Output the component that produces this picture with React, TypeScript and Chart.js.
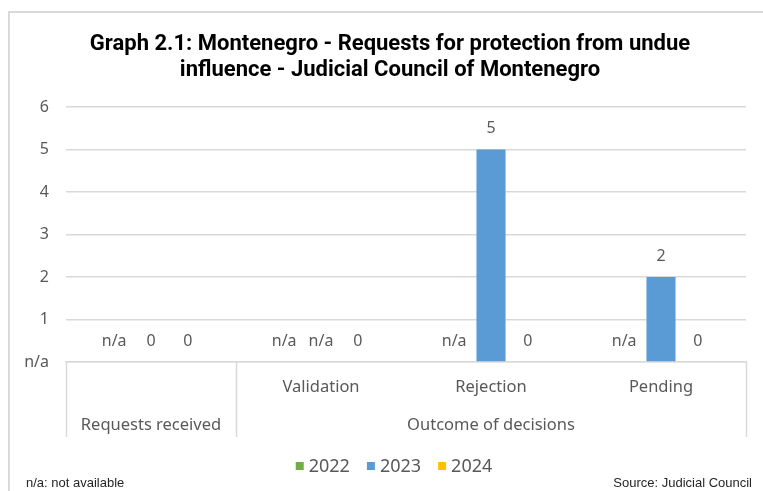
import React, { useEffect, useRef } from "react";
import { Chart, registerables } from "chart.js";

Chart.register(...registerables);

const titleLines = [
  "Graph 2.1: Montenegro - Requests for protection from undue",
  "influence - Judicial Council of Montenegro",
];
const categories = ["Requests received", "Validation", "Rejection", "Pending"];
const subLabels = ["", "Validation", "Rejection", "Pending"];
const groupLabels = ["Requests received", "Outcome of decisions"];
const groupSpans = [1, 3];
const seriesNames = ["2022", "2023", "2024"];
const values2022: (number | null)[] = [null, null, null, null];
const values2023: (number | null)[] = [0, null, 5, 2];
const values2024: (number | null)[] = [0, 0, 0, 0];
const yTicks = [0, 1, 2, 3, 4, 5, 6];
const zeroTickLabel = "n/a";
const footLeft = "n/a: not available";
const footRight = "Source: Judicial Council";

const colors = ["#70AD47", "#5B9BD5", "#FFC000"];
const textGray = "#595959";
const lineGray = "#D9D9D9";
const dataFont = "16px 'Noto Sans', sans-serif";
const catFont = "16.5px 'Noto Sans', sans-serif";

const decorPlugin = {
  id: "decor",
  beforeDraw(chart: any) {
    const ctx = chart.ctx;
    ctx.save();
    ctx.fillStyle = "#ffffff";
    ctx.fillRect(0, 0, chart.width, chart.height);
    ctx.strokeStyle = lineGray;
    ctx.lineWidth = 2;
    ctx.beginPath();
    ctx.moveTo(9, chart.height + 2);
    ctx.lineTo(9, 12);
    ctx.lineTo(chart.width + 2, 12);
    ctx.stroke();
    ctx.restore();
  },
  afterDraw(chart: any) {
    const ctx = chart.ctx;
    const xs = chart.scales.x;
    const ys = chart.scales.y;
    const area = chart.chartArea;
    ctx.save();
    // title
    ctx.fillStyle = "#000000";
    ctx.font = "bold 22px Roboto, sans-serif";
    ctx.textAlign = "center";
    ctx.textBaseline = "middle";
    titleLines.forEach((t, i) => ctx.fillText(t, 390, 44 + i * 26));

    // data labels
    ctx.font = dataFont;
    ctx.fillStyle = textGray;
    chart.data.datasets.forEach((ds: any, di: number) => {
      const meta = chart.getDatasetMeta(di);
      meta.data.forEach((el: any, i: number) => {
        const v = ds.data[i];
        const top = v == null ? ys.getPixelForValue(0) : ys.getPixelForValue(v);
        const txt = v == null ? "n/a" : String(v);
        ctx.fillText(txt, el.x, top - 21);
      });
    });

    // multi-level category axis
    const n = categories.length;
    const catW = (area.right - area.left) / n;
    const bottom = area.bottom;
    ctx.strokeStyle = lineGray;
    ctx.lineWidth = 1.5;
    let idx = 0;
    const bounds: number[] = [area.left];
    groupSpans.forEach((s) => {
      idx += s;
      bounds.push(area.left + idx * catW);
    });
    bounds.forEach((bx) => {
      ctx.beginPath();
      ctx.moveTo(Math.round(bx) + 0.5, bottom);
      ctx.lineTo(Math.round(bx) + 0.5, bottom + 75);
      ctx.stroke();
    });
    ctx.fillStyle = textGray;
    ctx.font = catFont;
    subLabels.forEach((l, i) => {
      if (l) ctx.fillText(l, xs.getPixelForValue(i), bottom + 25);
    });
    groupLabels.forEach((g, gi) => {
      const cx = (bounds[gi] + bounds[gi + 1]) / 2;
      ctx.fillText(g, cx, bottom + 63);
    });

    // legend
    ctx.font = "18px 'Noto Sans', sans-serif";
    ctx.textAlign = "left";
    const box = 8;
    const gap = 5;
    const spacing = 17;
    const widths = seriesNames.map((s) => box + gap + ctx.measureText(s).width);
    const total = widths.reduce((a, b) => a + b, 0) + spacing * (seriesNames.length - 1);
    let lx = 394 - total / 2;
    const ly = 466;
    seriesNames.forEach((s, i) => {
      ctx.fillStyle = colors[i];
      ctx.fillRect(lx, ly - box / 2, box, box);
      ctx.fillStyle = textGray;
      ctx.fillText(s, lx + box + gap, ly + 1);
      lx += widths[i] + spacing;
    });

    // footnotes
    ctx.fillStyle = "#262626";
    ctx.font = "13px 'Liberation Sans', Arial, sans-serif";
    ctx.textAlign = "left";
    ctx.fillText(footLeft, 26, 483);
    ctx.textAlign = "right";
    ctx.fillText(footRight, 752, 483);
    ctx.restore();
  },
};

export default function App() {
  const ref = useRef<HTMLCanvasElement>(null);
  useEffect(() => {
    if (!ref.current) return;
    const chart = new Chart(ref.current, {
      type: "bar",
      data: {
        labels: categories,
        datasets: [
          { label: seriesNames[0], data: values2022, backgroundColor: colors[0] },
          { label: seriesNames[1], data: values2023, backgroundColor: colors[1] },
          { label: seriesNames[2], data: values2024, backgroundColor: colors[2] },
        ],
      },
      options: {
        responsive: false,
        animation: false,
        maintainAspectRatio: false,
        layout: { padding: { left: 0, right: 17, top: 107, bottom: 0 } },
        plugins: {
          legend: { display: false },
          title: { display: false },
          tooltip: { enabled: false },
        },
        datasets: { bar: { categoryPercentage: 0.65, barPercentage: 0.79 } },
        scales: {
          x: {
            grid: { display: false },
            border: { display: true, color: lineGray, width: 1.5 },
            ticks: { display: false },
            afterFit: (s: any) => {
              s.height = 129;
            },
          },
          y: {
            min: 0,
            max: 6,
            afterBuildTicks: (s: any) => {
              s.ticks = yTicks.map((v) => ({ value: v }));
            },
            grid: { color: lineGray, lineWidth: 1.5, drawTicks: false },
            border: { display: false },
            ticks: {
              padding: 17,
              color: textGray,
              font: { family: "'Noto Sans', sans-serif", size: 16 },
              callback: (v: any) => (Number(v) === 0 ? zeroTickLabel : String(v)),
            },
            afterFit: (s: any) => {
              s.width = 66;
            },
          },
        },
      },
      plugins: [decorPlugin],
    } as any);
    return () => chart.destroy();
  }, []);
  return (
    <div style={{ position: "fixed", left: 0, top: 0, width: 763, height: 491 }}>
      <canvas ref={ref} width={763} height={491} style={{ width: 763, height: 491, display: "block" }} />
    </div>
  );
}
